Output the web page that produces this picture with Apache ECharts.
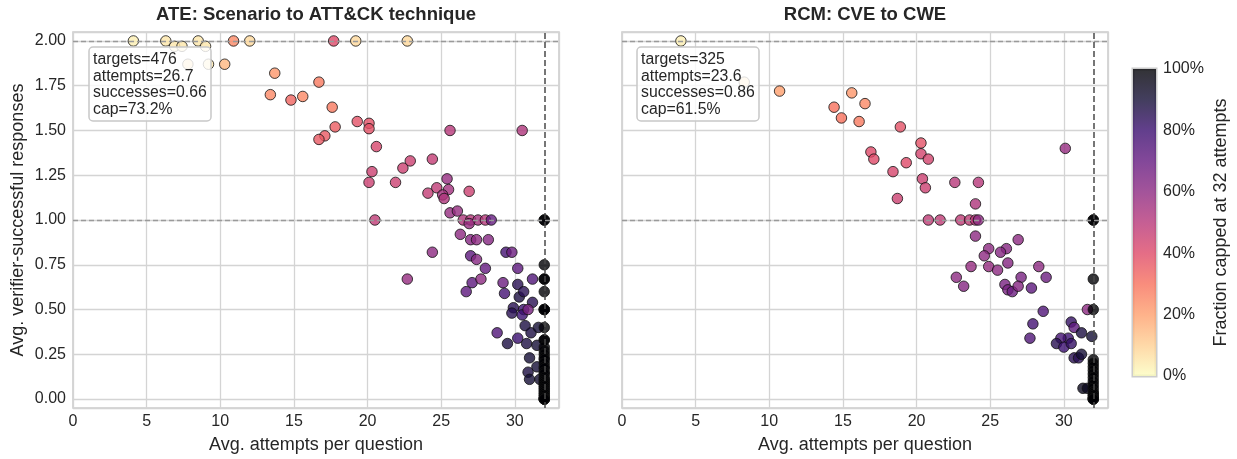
<!DOCTYPE html>
<html><head><meta charset="utf-8">
<script src="https://cdn.jsdelivr.net/npm/echarts@6/dist/echarts.min.js"></script>
<style>html,body{margin:0;padding:0;background:#fff}#c{width:1237px;height:459px}</style>
</head><body><div id="c"></div>
<script>
// ---------- DATA ----------
const panelTitles = ['ATE: Scenario to ATT&CK technique', 'RCM: CVE to CWE'];
const xTicks = [0, 5, 10, 15, 20, 25, 30];
const yTicks = [0, 0.25, 0.5, 0.75, 1.0, 1.25, 1.5, 1.75, 2.0];
const capTicks = [0, 20, 40, 60, 80, 100];
const ateStats = ['targets=476', 'attempts=26.7', 'successes=0.66', 'cap=73.2%'];
const rcmStats = ['targets=325', 'attempts=23.6', 'successes=0.86', 'cap=61.5%'];

const ateX = [4.1,6.3,6.9,7.4,8.5,9.0,10.9,12.0,17.7,19.2,22.7,7.8,9.2,10.3,13.7,16.7,13.4,14.8,15.6,17.6,
  17.8,17.1,16.7,19.3,20.1,20.1,20.6,25.6,30.5,24.4,22.9,22.4,20.3,20.1,21.9,25.4,24.7,25.5,24.1,25.1,
  25.2,26.9,20.5,25.6,26.1,26.5,27.0,27.5,28.0,28.4,26.9,26.3,27.0,27.4,28.2,24.4,27.0,27.4,29.4,29.8,
  28.0,30.2,22.7,27.1,27.7,26.7,29.2,29.3,30.2,31.2,30.3,30.6,29.9,30.6,31.2,29.8,30.5,30.9,30.7,31.1,
  28.8,29.5,30.2,30.8,31.6,31.5,31.0,31.5,30.9,31.0,31.7,
  32,32,32,32,32,32,32,32,32,32,32,32,32,32,32,32,32,32,32,32,32,32,32,32,32,32,32,32,32,32,32,32,32,32,32,32,32,32];
const ateY = [2.00,2.00,1.97,1.97,2.00,1.97,2.00,2.00,2.00,2.00,2.00,1.87,1.87,1.87,1.82,1.77,1.70,1.67,1.69,1.63,
  1.52,1.47,1.45,1.55,1.54,1.51,1.41,1.50,1.50,1.34,1.33,1.29,1.27,1.21,1.21,1.23,1.18,1.17,1.15,1.14,
  1.12,1.16,1.00,1.04,1.05,1.00,1.00,1.00,1.00,1.00,0.98,0.92,0.89,0.89,0.89,0.82,0.80,0.78,0.82,0.82,
  0.73,0.73,0.67,0.65,0.67,0.60,0.65,0.59,0.64,0.67,0.57,0.60,0.51,0.50,0.54,0.48,0.47,0.50,0.41,0.37,
  0.37,0.31,0.34,0.31,0.40,0.30,0.23,0.18,0.15,0.11,0.11,
  1.00,1.00,0.75,0.67,0.67,0.60,0.50,0.50,0.50,0.40,0.33,0.33,0.29,0.27,0.25,0.23,0.22,0.20,0.18,0.17,0.15,0.14,0.12,0.11,0.10,0.09,0.08,0.07,0.06,0.05,0.04,0.03,0.02,0.01,0.00,0.00,0.00,0.00];
const ateCap = [3,5,5,5,5,5,25,8,40,8,8,8,5,15,22,28,25,33,25,28,
  35,36,36,38,38,38,42,50,52,47,45,45,45,45,45,58,48,55,47,55,
  52,45,48,58,58,52,50,55,50,70,58,60,62,60,62,60,72,62,78,68,
  70,72,58,72,60,72,68,78,85,75,88,85,85,80,85,85,80,65,88,88,
  75,88,80,88,90,90,90,90,88,90,92,
  100,100,100,100,100,100,100,100,100,100,100,100,100,100,100,100,100,100,100,100,100,100,100,100,100,100,100,100,100,100,100,100,100,100,100,100,100,100];

const rcmX = [4.0,8.3,10.7,15.6,16.5,14.4,14.9,16.1,18.9,16.9,17.1,18.4,18.7,20.3,20.3,20.8,19.3,20.4,20.6,22.6,
  24.2,24.0,20.8,21.6,23.0,23.6,24.0,24.2,30.1,24.0,26.9,24.9,26.1,25.7,24.6,26.2,23.7,24.9,25.5,28.3,
  22.7,27.1,28.8,23.2,26.0,26.2,26.5,26.9,27.8,28.6,31.6,27.9,27.7,30.5,30.7,31.2,31.9,30.3,29.8,29.5,
  30.0,30.5,30.7,31.0,31.2,31.3,31.6,
  32,32,32,32,32,32,32,32,32,32,32,32,32,32,32,32,32,32,32,32];
const rcmY = [2.00,1.77,1.72,1.71,1.65,1.63,1.57,1.55,1.52,1.38,1.34,1.27,1.12,1.43,1.37,1.34,1.32,1.23,1.18,1.21,
  1.21,1.09,1.00,1.00,1.00,1.00,1.00,1.00,1.40,0.91,0.89,0.84,0.84,0.82,0.80,0.76,0.74,0.74,0.72,0.74,
  0.68,0.68,0.68,0.63,0.64,0.61,0.60,0.63,0.62,0.49,0.50,0.42,0.34,0.43,0.40,0.37,0.35,0.34,0.34,0.31,
  0.29,0.31,0.23,0.23,0.25,0.06,0.06,
  1.00,1.00,0.67,0.50,0.22,0.20,0.18,0.16,0.14,0.12,0.10,0.08,0.06,0.04,0.03,0.02,0.01,0.00,0.00,0.00];
const rcmCap = [3,8,20,22,25,30,30,28,38,40,40,42,45,38,43,43,40,45,45,50,
  50,52,48,48,48,48,50,60,58,60,60,60,62,62,60,62,58,58,60,60,
  60,65,68,62,65,65,68,62,72,75,60,78,75,82,72,88,90,80,78,85,
  80,82,85,85,90,95,95,
  100,100,100,100,100,100,100,100,100,100,100,100,100,100,100,100,100,100,100,100];

// ---------- STYLE ----------
const magma = ['#000004','#140e36','#3b0f70','#641a80','#8c2981','#b73779','#de4968','#f7705c','#fe9f6d','#fecf92','#fcfdbf'];
const FONT = 'Liberation Sans, Arial, sans-serif';
const TXT = '#262626';
const GRIDC = '#d4d4d4';

const ateData = ateX.map((x, i) => [x, ateY[i], ateCap[i]]);
const rcmData = rcmX.map((x, i) => [x, rcmY[i], rcmCap[i]]);

const grids = [
  {left: 73, top: 32, width: 486, height: 376},
  {left: 622, top: 32, width: 486, height: 376},
  {left: 1133, top: 69, width: 23, height: 307}
];

function xAx(gi) {
  return {
    type: 'value', gridIndex: gi, min: 0, max: 33, interval: 5,
    name: 'Avg. attempts per question', nameLocation: 'middle', nameGap: 28,
    nameTextStyle: {fontFamily: FONT, fontSize: 18, color: TXT},
    axisLine: {show: false}, axisTick: {show: false},
    axisLabel: {fontFamily: FONT, fontSize: 16, color: TXT, margin: 6, showMaxLabel: false,
      formatter: v => (xTicks.indexOf(v) >= 0 ? String(v) : '')},
    splitLine: {show: true, lineStyle: {color: GRIDC, width: 1.3}}
  };
}
function yAx(gi, showLabels) {
  return {
    type: 'value', gridIndex: gi, min: -0.05, max: 2.05, minInterval: 0.25, maxInterval: 0.25, splitNumber: 8,
    name: showLabels ? 'Avg. verifier-successful responses' : '', nameLocation: 'middle', nameGap: 46,
    nameTextStyle: {fontFamily: FONT, fontSize: 18, color: TXT},
    axisLine: {show: false}, axisTick: {show: false},
    axisLabel: {show: showLabels, fontFamily: FONT, fontSize: 16, color: TXT, margin: 7,
      showMinLabel: false, showMaxLabel: false,
      formatter: v => (yTicks.some(t => Math.abs(t - v) < 1e-9) ? v.toFixed(2) : '')},
    splitLine: {show: true, lineStyle: {color: GRIDC, width: 1.3}}
  };
}

function scatter(gi, data) {
  return {
    type: 'scatter', xAxisIndex: gi, yAxisIndex: gi, data: data,
    symbolSize: 10.5,
    itemStyle: {opacity: 0.8, borderColor: '#111111', borderWidth: 1},
    emphasis: {disabled: true},
    markLine: {
      silent: true, symbol: 'none', label: {show: false}, z: 10,
      data: [
        {yAxis: 2.0, lineStyle: {color: '#9a9a9a', type: [5, 3], width: 1.3}},
        {yAxis: 1.0, lineStyle: {color: '#9a9a9a', type: [5, 3], width: 1.3}},
        {xAxis: 32, lineStyle: {color: '#4a4a4a', type: [6, 3], width: 1.5}}
      ]
    }
  };
}

const boxStyle = {
  backgroundColor: 'rgba(255,255,255,0.82)', borderColor: '#c8c8c8', borderWidth: 1.5, borderRadius: 4,
  padding: [4, 5, 3, 4], textStyle: {fontFamily: FONT, fontSize: 15.8, lineHeight: 16.8, color: TXT, fontWeight: 'normal'}
};

const option = {
  animation: false,
  backgroundColor: '#ffffff',
  title: [
    {text: panelTitles[0], left: 316, top: 4, textAlign: 'center', padding: 0,
      textStyle: {fontFamily: FONT, fontSize: 18.5, fontWeight: 'bold', color: TXT, lineHeight: 22}},
    {text: panelTitles[1], left: 865, top: 4, textAlign: 'center', padding: 0,
      textStyle: {fontFamily: FONT, fontSize: 18.5, fontWeight: 'bold', color: TXT, lineHeight: 22}},
    Object.assign({text: ateStats.join('\n'), left: 89, top: 47}, boxStyle),
    Object.assign({text: rcmStats.join('\n'), left: 637, top: 47}, boxStyle)
  ],
  grid: grids.map((g, i) => Object.assign({show: true, borderColor: '#cccccc', borderWidth: i === 2 ? 3 : 1.6, backgroundColor: 'transparent'}, g)),
  xAxis: [xAx(0), xAx(1), {type: 'category', gridIndex: 2, data: ['c'], show: false}],
  yAxis: [yAx(0, true), yAx(1, false), {
    type: 'value', gridIndex: 2, min: 0, max: 100, interval: 20, position: 'right',
    name: 'Fraction capped at 32 attempts', nameLocation: 'middle', nameRotate: 90, nameGap: 56,
    nameTextStyle: {fontFamily: FONT, fontSize: 18, color: TXT},
    axisLine: {show: false}, axisTick: {show: false}, splitLine: {show: false},
    axisLabel: {fontFamily: FONT, fontSize: 16, color: TXT, margin: 7,
      formatter: v => (capTicks.indexOf(v) >= 0 ? v + '%' : '')}
  }],
  visualMap: {
    type: 'continuous', show: false, min: 0, max: 100, dimension: 2, seriesIndex: [0, 1],
    inRange: {color: magma.slice().reverse()}
  },
  series: [
    scatter(0, ateData),
    scatter(1, rcmData),
    {
      type: 'bar', xAxisIndex: 2, yAxisIndex: 2, data: [100], barWidth: '100%', silent: true,
      itemStyle: {opacity: 0.8, color: {type: 'linear', x: 0, y: 0, x2: 0, y2: 1,
        colorStops: magma.map((c, i) => ({offset: i / (magma.length - 1), color: c}))}}
    }
  ]
};

const chart = echarts.init(document.getElementById('c'), null, {renderer: 'canvas'});
chart.setOption(option);
</script>
</body></html>
